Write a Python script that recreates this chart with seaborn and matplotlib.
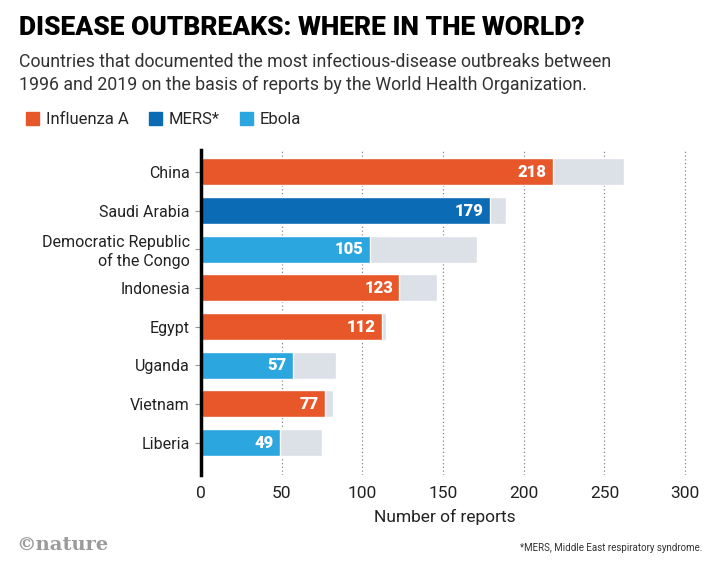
import numpy as np
import pandas as pd
import matplotlib
matplotlib.use("Agg")
import matplotlib.pyplot as plt
from matplotlib.patches import Patch
import seaborn as sns

countries = ["China", "Saudi Arabia", "Democratic Republic\nof the Congo", "Indonesia",
             "Egypt", "Uganda", "Vietnam", "Liberia"]
disease = ["Influenza A", "MERS*", "Ebola", "Influenza A",
           "Influenza A", "Ebola", "Influenza A", "Ebola"]
top_counts = [218, 179, 105, 123, 112, 57, 77, 49]
total_reports = [262, 189, 171, 146, 115, 84, 82, 75]

colors = {"Influenza A": "#E8572A", "MERS*": "#0B6BB5", "Ebola": "#2BA6DF"}
grey = "#DCE1E8"

df = pd.DataFrame({"country": countries, "disease": disease,
                   "count": top_counts, "total": total_reports})

sns.set_style("white")
plt.rcParams['font.family'] = ['Roboto', 'DejaVu Sans']

fig = plt.figure(figsize=(7.2, 5.74), dpi=100)
ax = fig.add_axes([0.279, 0.173, 0.677, 0.566])

# grey = all reports, coloured = the top disease
sns.barplot(data=df, y="country", x="total", color=grey, width=0.7,
            orient="h", ax=ax, saturation=1)
sns.barplot(data=df, y="country", x="count", hue="disease", palette=colors,
            dodge=False, width=0.7, orient="h", ax=ax, saturation=1, legend=False)

for i, v in enumerate(top_counts):
    ax.text(v - 4, i, str(v), color="white", fontweight="black", fontsize=12,
            ha="right", va="center")

ax.set_xlim(0, 302)
ax.set_ylim(7.83, -0.57)
ax.set_xticks([0, 50, 100, 150, 200, 250, 300])
ax.tick_params(axis="x", length=0, labelsize=12.5, colors="#222222", pad=8)
ax.tick_params(axis="y", length=4, color="#999999", labelsize=11.5,
               labelcolor="#222222", left=True, pad=4, width=0.8)
ax.grid(axis="x", linestyle=(0, (1, 2)), color="#888888", linewidth=0.9)
ax.set_axisbelow(True)
for s in ["top", "right", "bottom"]:
    ax.spines[s].set_visible(False)
ax.spines["left"].set_color("black")
ax.spines["left"].set_linewidth(2.5)
ax.spines["left"].set_zorder(5)
ax.set_ylabel("")
ax.set_xlabel("Number of reports", fontsize=12.5, color="#222222", labelpad=6)

fig.text(0.026, 0.972, "DISEASE OUTBREAKS: WHERE IN THE WORLD?", fontsize=19,
         fontweight="black", va="top", color="black",
         family=["Roboto", "DejaVu Sans"])
fig.text(0.026, 0.907, "Countries that documented the most infectious-disease outbreaks between\n"
         "1996 and 2019 on the basis of reports by the World Health Organization.",
         fontsize=12.8, va="top", color="#333333", linespacing=1.35)

handles = [Patch(color=colors[k], label=k) for k in colors]
fig.legend(handles=handles, loc="center left", bbox_to_anchor=(0.015, 0.792),
           ncol=3, frameon=False, fontsize=12, handlelength=0.8, handleheight=0.8,
           handletextpad=0.4, columnspacing=1.2)

fig.text(0.022, 0.05, "©nature", fontsize=14, fontweight="bold", color="#9a9a9a",
         family=["DejaVu Serif"], va="center")
fig.text(0.975, 0.045, "*MERS, Middle East respiratory syndrome.", fontsize=7,
         ha="right", va="center", color="#333333")

fig.savefig("out.png", dpi=100)
